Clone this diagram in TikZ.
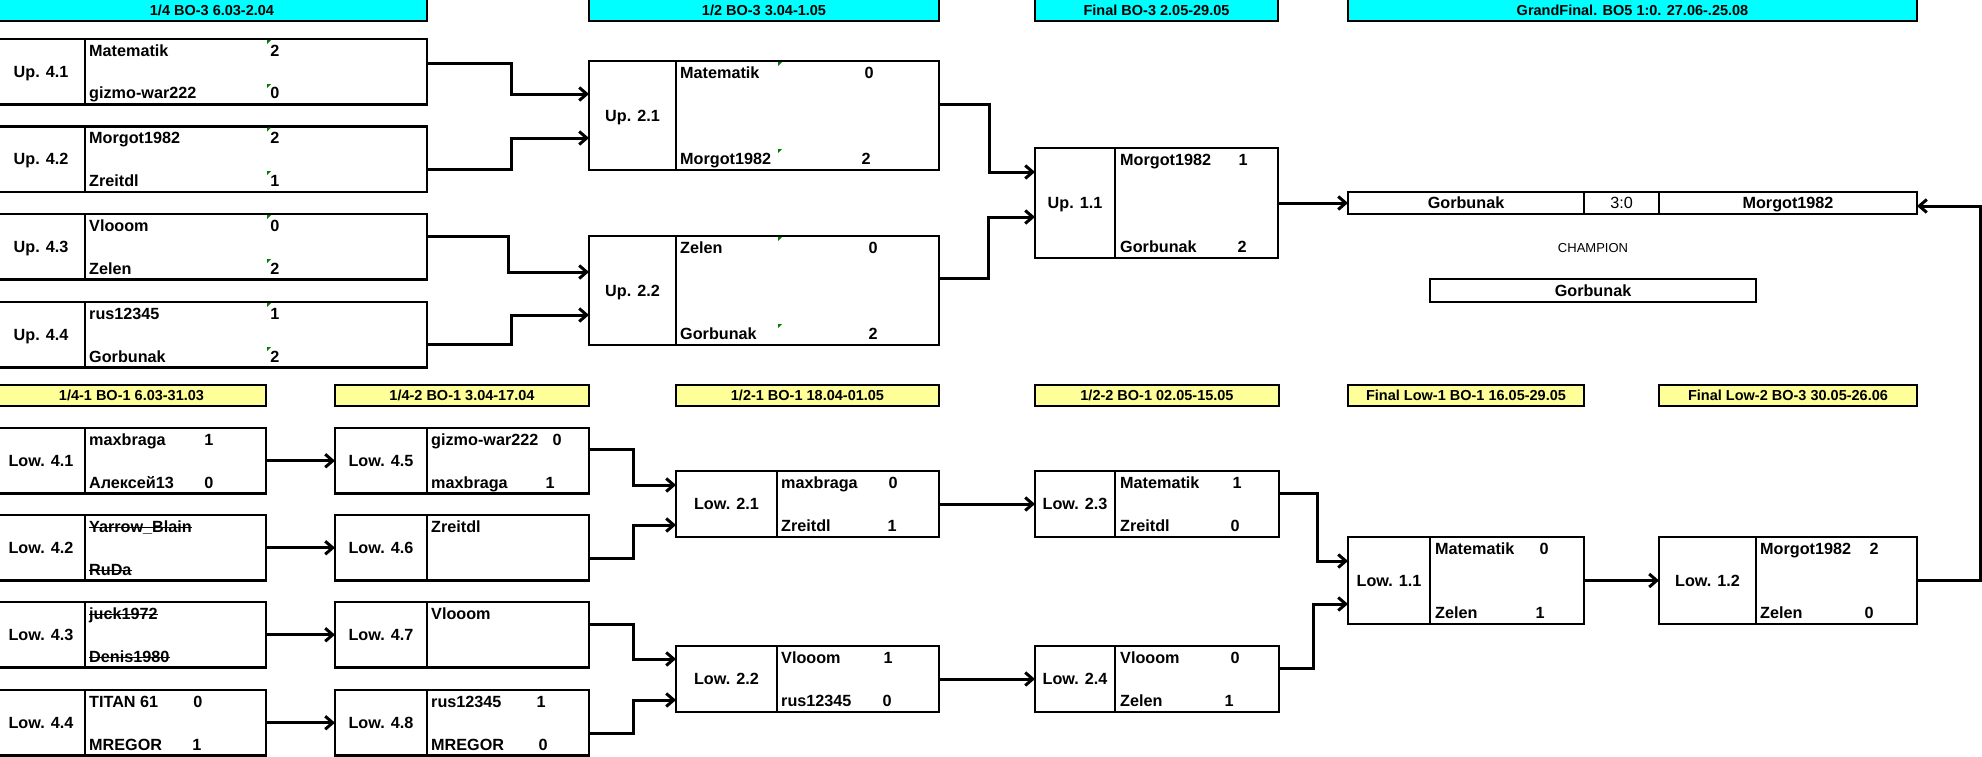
\documentclass[tikz,border=0pt]{standalone}
\usepackage{fontspec}
\setmainfont{Liberation Sans}
\usetikzlibrary{arrows.meta}
\definecolor{uphdr}{RGB}{0,255,255}
\definecolor{lowyellow}{RGB}{255,255,153}

\begin{document}
\begin{tikzpicture}[x=1pt,y=1pt,
  cell/.style={draw,line width=2.2,inner sep=0,outer sep=0,anchor=north west,text depth=0pt,font=\fontsize{16.2}{18}\selectfont\bfseries},
  uphead/.style={cell,fill=uphdr,minimum height=22.2,font=\fontsize{14.5}{17}\selectfont\bfseries},
  lowhead/.style={cell,fill=lowyellow,minimum height=21,font=\fontsize{14.5}{17}\selectfont\bfseries},
  nm/.style={anchor=base west,inner sep=0,font=\fontsize{16.2}{18}\selectfont\bfseries},
  sc/.style={anchor=base,inner sep=0,font=\fontsize{16.2}{18}\selectfont\bfseries},
  strike/.style={line width=1.4},
  gmark/.style={fill=green!50!black},
  link/.style={line width=3,-{Straight Barb[length=7.5pt,width=13pt]}}]

\fill[white] (0,0) rectangle (1982,-756);
\useasboundingbox (0,0) rectangle (1982,-756);

% Upper bracket headers
\node[uphead,minimum width=430] (h14) at (-3,1.2) {1/4 BO-3 6.03-2.04};
\node[uphead,minimum width=350] (h12) at (589,1.2) {1/2 BO-3 3.04-1.05};
\node[uphead,minimum width=243] (hfin) at (1035,1.2) {Final BO-3 2.05-29.05};
\node[uphead,minimum width=569] (hgf) at (1348,1.2) {GrandFinal. BO5 1:0. 27.06-.25.08};

% Lower bracket headers
\node[lowhead,minimum width=269] (l141) at (-3,-385) {1/4-1 BO-1 6.03-31.03};
\node[lowhead,minimum width=254] (l142) at (335,-385) {1/4-2 BO-1 3.04-17.04};
\node[lowhead,minimum width=263] (l121) at (676,-385) {1/2-1 BO-1 18.04-01.05};
\node[lowhead,minimum width=244] (l122) at (1035,-385) {1/2-2 BO-1 02.05-15.05};
\node[lowhead,minimum width=236] (lfl1) at (1348,-385) {Final Low-1 BO-1 16.05-29.05};
\node[lowhead,minimum width=258] (lfl2) at (1659,-385) {Final Low-2 BO-3 30.05-26.06};

% Up 4.x
\node[cell,minimum width=88,minimum height=65.5] (up41) at (-3,-39) {Up. 4.1};
\node[cell,minimum width=342,minimum height=65.5] (up41p) at (up41.north east) {};
\node[nm] (up41a) at (89,-56) {Matematik}; \node[sc] (up41as) at (275,-56) {2};
\node[nm] (up41b) at (89,-98.5) {gizmo-war222}; \node[sc] (up41bs) at (275,-98.5) {0};

\node[cell,minimum width=88,minimum height=65.5] (up42) at (-3,-126.5) {Up. 4.2};
\node[cell,minimum width=342,minimum height=65.5] (up42p) at (up42.north east) {};
\node[nm] (up42a) at (89,-143.5) {Morgot1982}; \node[sc] (up42as) at (275,-143.5) {2};
\node[nm] (up42b) at (89,-186.5) {Zreitdl}; \node[sc] (up42bs) at (275,-186.5) {1};

\node[cell,minimum width=88,minimum height=65.5] (up43) at (-3,-214) {Up. 4.3};
\node[cell,minimum width=342,minimum height=65.5] (up43p) at (up43.north east) {};
\node[nm] (up43a) at (89,-231) {Vlooom}; \node[sc] (up43as) at (275,-231) {0};
\node[nm] (up43b) at (89,-274) {Zelen}; \node[sc] (up43bs) at (275,-274) {2};

\node[cell,minimum width=88,minimum height=65.5] (up44) at (-3,-302) {Up. 4.4};
\node[cell,minimum width=342,minimum height=65.5] (up44p) at (up44.north east) {};
\node[nm] (up44a) at (89,-319) {rus12345}; \node[sc] (up44as) at (275,-319) {1};
\node[nm] (up44b) at (89,-362) {Gorbunak}; \node[sc] (up44bs) at (275,-362) {2};

% Up 2.x
\node[cell,minimum width=87,minimum height=109] (up21) at (589,-61) {Up. 2.1};
\node[cell,minimum width=263,minimum height=109] (up21p) at (up21.north east) {};
\node[nm] (up21a) at (680,-78) {Matematik}; \node[sc] (up21as) at (869,-78) {0};
\node[nm] (up21b) at (680,-164.5) {Morgot1982}; \node[sc] (up21bs) at (866,-164.5) {2};

\node[cell,minimum width=87,minimum height=109] (up22) at (589,-236) {Up. 2.2};
\node[cell,minimum width=263,minimum height=109] (up22p) at (up22.north east) {};
\node[nm] (up22a) at (680,-253) {Zelen}; \node[sc] (up22as) at (873,-253) {0};
\node[nm] (up22b) at (680,-339.5) {Gorbunak}; \node[sc] (up22bs) at (873,-339.5) {2};

% Up 1.1
\node[cell,minimum width=80,minimum height=110] (up11) at (1035,-148) {Up. 1.1};
\node[cell,minimum width=163,minimum height=110] (up11p) at (up11.north east) {};
\node[nm] (up11a) at (1120,-165) {Morgot1982}; \node[sc] (up11as) at (1243,-165) {1};
\node[nm] (up11b) at (1120,-252.5) {Gorbunak}; \node[sc] (up11bs) at (1242,-252.5) {2};

% small green marks
\fill[gmark] (267,-40) -- ++(4,0) -- ++(-4,-4) -- cycle; \fill[gmark] (267,-84) -- ++(4,0) -- ++(-4,-4) -- cycle;
\fill[gmark] (267,-127.5) -- ++(4,0) -- ++(-4,-4) -- cycle; \fill[gmark] (267,-171) -- ++(4,0) -- ++(-4,-4) -- cycle;
\fill[gmark] (267,-215) -- ++(4,0) -- ++(-4,-4) -- cycle; \fill[gmark] (267,-259) -- ++(4,0) -- ++(-4,-4) -- cycle;
\fill[gmark] (267,-303) -- ++(4,0) -- ++(-4,-4) -- cycle; \fill[gmark] (267,-347) -- ++(4,0) -- ++(-4,-4) -- cycle;
\fill[gmark] (778,-62) -- ++(4,0) -- ++(-4,-4) -- cycle; \fill[gmark] (778,-149) -- ++(4,0) -- ++(-4,-4) -- cycle;
\fill[gmark] (778,-237) -- ++(4,0) -- ++(-4,-4) -- cycle; \fill[gmark] (778,-324) -- ++(4,0) -- ++(-4,-4) -- cycle;

% Grand final and champion
\node[cell,minimum width=236,minimum height=22] (gf1) at (1348,-192) {Gorbunak};
\node[cell,minimum width=75,minimum height=22,font=\fontsize{16.2}{18}\selectfont] (gf2) at (gf1.north east) {3:0};
\node[cell,minimum width=258,minimum height=22] (gf3) at (gf2.north east) {Morgot1982};
\node[font=\fontsize{13}{15}\selectfont,text depth=0pt,inner sep=0] (champlbl) at (1593,-248) {CHAMPION};
\node[cell,minimum width=326,minimum height=23] (champ) at (1430,-279) {Gorbunak};

% Low 4.1 - 4.4
\node[cell,minimum width=88,minimum height=65.5] (low41) at (-3,-428) {Low. 4.1};
\node[cell,minimum width=181,minimum height=65.5] (low41p) at (low41.north east) {};
\node[nm] (low41a) at (89,-445) {maxbraga}; \node[sc] (low41as) at (209,-445) {1};
\node[nm] (low41b) at (89,-488) {Алексей13}; \node[sc] (low41bs) at (209,-488) {0};

\node[cell,minimum width=88,minimum height=65.5] (low42) at (-3,-515) {Low. 4.2};
\node[cell,minimum width=181,minimum height=65.5] (low42p) at (low42.north east) {};
\node[nm] (low42a) at (89,-532) {Yarrow\_Blain};
\node[nm] (low42b) at (89,-575) {RuDa};

\node[cell,minimum width=88,minimum height=65.5] (low43) at (-3,-602) {Low. 4.3};
\node[cell,minimum width=181,minimum height=65.5] (low43p) at (low43.north east) {};
\node[nm] (low43a) at (89,-619) {juck1972};
\node[nm] (low43b) at (89,-662) {Denis1980};

% struck out players
\draw[strike] ([yshift=4.5]low42a.base west) -- ([yshift=4.5]low42a.base east);
\draw[strike] ([yshift=4.5]low42b.base west) -- ([yshift=4.5]low42b.base east);
\draw[strike] ([yshift=4.5]low43a.base west) -- ([yshift=4.5]low43a.base east);
\draw[strike] ([yshift=4.5]low43b.base west) -- ([yshift=4.5]low43b.base east);

\node[cell,minimum width=88,minimum height=65.5] (low44) at (-3,-690) {Low. 4.4};
\node[cell,minimum width=181,minimum height=65.5] (low44p) at (low44.north east) {};
\node[nm] (low44a) at (89,-707) {TITAN 61}; \node[sc] (low44as) at (198,-707) {0};
\node[nm] (low44b) at (89,-750) {MREGOR}; \node[sc] (low44bs) at (197,-750) {1};

% Low 4.5 - 4.8
\node[cell,minimum width=92,minimum height=65.5] (low45) at (335,-428) {Low. 4.5};
\node[cell,minimum width=162,minimum height=65.5] (low45p) at (low45.north east) {};
\node[nm] (low45a) at (431,-445) {gizmo-war222}; \node[sc] (low45as) at (557,-445) {0};
\node[nm] (low45b) at (431,-488) {maxbraga}; \node[sc] (low45bs) at (550,-488) {1};

\node[cell,minimum width=92,minimum height=65.5] (low46) at (335,-515) {Low. 4.6};
\node[cell,minimum width=162,minimum height=65.5] (low46p) at (low46.north east) {};
\node[nm] (low46a) at (431,-532) {Zreitdl};

\node[cell,minimum width=92,minimum height=65.5] (low47) at (335,-602) {Low. 4.7};
\node[cell,minimum width=162,minimum height=65.5] (low47p) at (low47.north east) {};
\node[nm] (low47a) at (431,-619) {Vlooom};

\node[cell,minimum width=92,minimum height=65.5] (low48) at (335,-690) {Low. 4.8};
\node[cell,minimum width=162,minimum height=65.5] (low48p) at (low48.north east) {};
\node[nm] (low48a) at (431,-707) {rus12345}; \node[sc] (low48as) at (541,-707) {1};
\node[nm] (low48b) at (431,-750) {MREGOR}; \node[sc] (low48bs) at (543,-750) {0};

% Low 2.x
\node[cell,minimum width=101,minimum height=66] (low21) at (676,-471) {Low. 2.1};
\node[cell,minimum width=162,minimum height=66] (low21p) at (low21.north east) {};
\node[nm] (low21a) at (781,-488) {maxbraga}; \node[sc] (low21as) at (893,-488) {0};
\node[nm] (low21b) at (781,-531.5) {Zreitdl}; \node[sc] (low21bs) at (892,-531.5) {1};

\node[cell,minimum width=101,minimum height=66] (low22) at (676,-646) {Low. 2.2};
\node[cell,minimum width=162,minimum height=66] (low22p) at (low22.north east) {};
\node[nm] (low22a) at (781,-663) {Vlooom}; \node[sc] (low22as) at (888,-663) {1};
\node[nm] (low22b) at (781,-706.5) {rus12345}; \node[sc] (low22bs) at (887,-706.5) {0};

\node[cell,minimum width=80,minimum height=66] (low23) at (1035,-471) {Low. 2.3};
\node[cell,minimum width=164,minimum height=66] (low23p) at (low23.north east) {};
\node[nm] (low23a) at (1120,-488) {Matematik}; \node[sc] (low23as) at (1237,-488) {1};
\node[nm] (low23b) at (1120,-531.5) {Zreitdl}; \node[sc] (low23bs) at (1235,-531.5) {0};

\node[cell,minimum width=80,minimum height=66] (low24) at (1035,-646) {Low. 2.4};
\node[cell,minimum width=164,minimum height=66] (low24p) at (low24.north east) {};
\node[nm] (low24a) at (1120,-663) {Vlooom}; \node[sc] (low24as) at (1235,-663) {0};
\node[nm] (low24b) at (1120,-706.5) {Zelen}; \node[sc] (low24bs) at (1229,-706.5) {1};

% Low 1.x
\node[cell,minimum width=82,minimum height=87] (low11) at (1348,-537) {Low. 1.1};
\node[cell,minimum width=154,minimum height=87] (low11p) at (low11.north east) {};
\node[nm] (low11a) at (1435,-554) {Matematik}; \node[sc] (low11as) at (1544,-554) {0};
\node[nm] (low11b) at (1435,-618.5) {Zelen}; \node[sc] (low11bs) at (1540,-618.5) {1};

\node[cell,minimum width=97,minimum height=87] (low12) at (1659,-537) {Low. 1.2};
\node[cell,minimum width=161,minimum height=87] (low12p) at (low12.north east) {};
\node[nm] (low12a) at (1760,-554) {Morgot1982}; \node[sc] (low12as) at (1874,-554) {2};
\node[nm] (low12b) at (1760,-618.5) {Zelen}; \node[sc] (low12bs) at (1869,-618.5) {0};

% Upper connections
\draw[link] ([yshift=8.75]up41p.east) -- ++(84,0) |- ([yshift=21.5]up21.west);
\draw[link] ([yshift=-9.75]up42p.east) -- ++(84,0) |- ([yshift=-22.5]up21.west);
\draw[link] ([yshift=10.75]up43p.east) -- ++(81,0) |- ([yshift=18.5]up22.west);
\draw[link] ([yshift=-9.25]up44p.east) -- ++(84,0) |- ([yshift=-24.5]up22.west);
\draw[link] ([yshift=11.5]up21p.east) -- ++(50,0) |- ([yshift=31]up11.west);
\draw[link] ([yshift=12.5]up22p.east) -- ++(49,0) |- ([yshift=-14]up11.west);
\draw[link] (up11p.east) -- (gf1.west);
\draw[link] (low12p.east) -- ++(63,0) |- ([yshift=-3]gf3.east);

% Lower connections
\draw[link] (low41p.east) -- (low45.west);
\draw[link] (low42p.east) -- (low46.west);
\draw[link] (low43p.east) -- (low47.west);
\draw[link] (low44p.east) -- (low48.west);
\draw[link] ([yshift=11.75]low45p.east) -- ++(44,0) |- ([yshift=19]low21.west);
\draw[link] ([yshift=-10.25]low46p.east) -- ++(44,0) |- ([yshift=-21]low21.west);
\draw[link] ([yshift=10.75]low47p.east) -- ++(44,0) |- ([yshift=20]low22.west);
\draw[link] ([yshift=-10.25]low48p.east) -- ++(44,0) |- ([yshift=-21]low22.west);
\draw[link] (low21p.east) -- (low23.west);
\draw[link] (low22p.east) -- (low24.west);
\draw[link] ([yshift=11]low23p.east) -- ++(38,0) |- ([yshift=19.5]low11.west);
\draw[link] ([yshift=11]low24p.east) -- ++(34,0) |- ([yshift=-23.5]low11.west);
\draw[link] (low11p.east) -- (low12.west);

\end{tikzpicture}
\end{document}
